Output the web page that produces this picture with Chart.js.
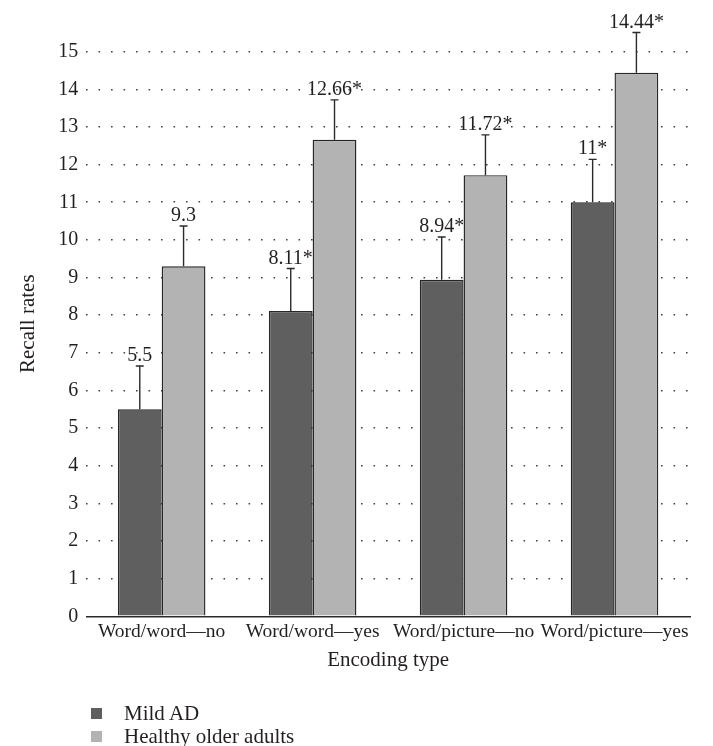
<!DOCTYPE html>
<html>
<head>
<meta charset="utf-8">
<script src="https://cdn.jsdelivr.net/npm/chart.js@4.4.1/dist/chart.umd.min.js"></script>
<style>
  body { margin: 0; background: #fff; }
  #wrap { position: relative; width: 713px; height: 746px; }
  .legend-item {
    position: absolute; left: 91px; height: 22px;
    font-family: "Liberation Serif", serif; font-size: 21px; color: #231f20;
    display: flex; align-items: center;
  }
  .legend-item span.box { width: 11px; height: 11px; margin-right: 22px; }
</style>
</head>
<body>
<div id="wrap">
  <canvas id="recallChart" width="713" height="746"></canvas>
  <div class="legend-item" style="top:702px"><span class="box" style="background:#5f5f5f"></span>Mild AD</div>
  <div class="legend-item" style="top:725px"><span class="box" style="background:#b3b3b3"></span>Healthy older adults</div>
</div>
<script>
const categories = ["Word/word\u2014no", "Word/word\u2014yes", "Word/picture\u2014no", "Word/picture\u2014yes"];
const mildAD = [5.5, 8.11, 8.94, 11];
const mildErr = [1.15, 1.13, 1.14, 1.14];
const mildLabels = ["5.5", "8.11*", "8.94*", "11*"];
const healthy = [9.3, 12.66, 11.72, 14.44];
const healthyErr = [1.07, 1.06, 1.07, 1.07];
const healthyLabels = ["9.3", "12.66*", "11.72*", "14.44*"];

const serif = '"Liberation Serif", "Times New Roman", serif';
const ink = '#231f20';

// error bars (upper only) and value labels above the caps
const errorBars = {
  id: 'errorBars',
  afterDatasetsDraw(chart) {
    const ctx = chart.ctx;
    const y = chart.scales.y;
    ctx.save();
    chart.data.datasets.forEach((ds, di) => {
      const meta = chart.getDatasetMeta(di);
      meta.data.forEach((bar, i) => {
        const top = y.getPixelForValue(ds.data[i] + ds.errors[i]);
        ctx.strokeStyle = '#2a2a2a';
        ctx.lineWidth = 1.4;
        ctx.beginPath();
        ctx.moveTo(bar.x, bar.y);
        ctx.lineTo(bar.x, top);
        ctx.moveTo(bar.x - 4, top);
        ctx.lineTo(bar.x + 4, top);
        ctx.stroke();
        ctx.fillStyle = ink;
        ctx.font = '20px ' + serif;
        ctx.textAlign = 'center';
        ctx.textBaseline = 'alphabetic';
        ctx.fillText(ds.valueLabels[i], bar.x, top - 5);
      });
    });
    ctx.restore();
  }
};

new Chart(document.getElementById('recallChart'), {
  type: 'bar',
  data: {
    labels: categories,
    datasets: [
      { label: 'Mild AD', data: mildAD, errors: mildErr, valueLabels: mildLabels,
        backgroundColor: '#5f5f5f', borderColor: '#262626', borderWidth: 1.4 },
      { label: 'Healthy older adults', data: healthy, errors: healthyErr, valueLabels: healthyLabels,
        backgroundColor: '#b3b3b3', borderColor: '#262626', borderWidth: 1.4 }
    ]
  },
  options: {
    responsive: false,
    animation: false,
    categoryPercentage: 0.58,
    barPercentage: 1.0,
    layout: { padding: { left: 16, right: 23, top: 31, bottom: 73 } },
    plugins: { legend: { display: false }, tooltip: { enabled: false } },
    scales: {
      x: {
        grid: { display: false, drawTicks: false, tickLength: 0 },
        border: { display: true, color: '#2a2a2a', width: 1.4 },
        ticks: { color: ink, font: { family: serif, size: 19.5 }, maxRotation: 0, autoSkip: false, padding: 4 },
        title: { display: true, text: 'Encoding type', color: ink, font: { family: serif, size: 21 }, padding: { top: 0, bottom: 0 } }
      },
      y: {
        min: 0,
        max: 15.55,
        grid: {
          drawTicks: false,
          lineWidth: 1.6,
          color: c => (c.tick && c.tick.value === 0) ? 'rgba(0,0,0,0)' : '#444'
        },
        border: { display: false, dash: [1.6, 10.9] },
        ticks: { stepSize: 1, includeBounds: false, color: ink, font: { family: serif, size: 20 }, padding: 8 },
        title: { display: true, text: 'Recall rates', color: ink, font: { family: serif, size: 21 }, padding: { top: 0, bottom: 9 } }
      }
    }
  },
  plugins: [errorBars]
});
</script>
</body>
</html>
